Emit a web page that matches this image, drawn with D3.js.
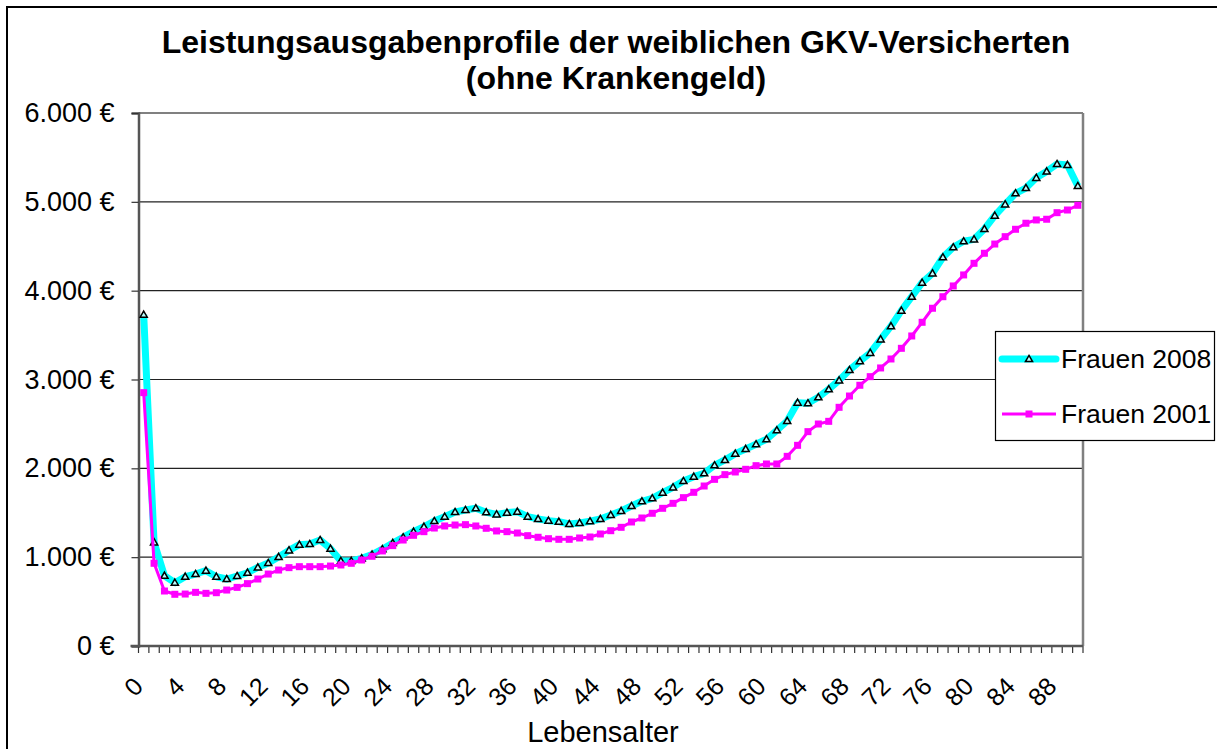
<!DOCTYPE html>
<html>
<head>
<meta charset="utf-8">
<script src="https://cdnjs.cloudflare.com/ajax/libs/d3/7.8.5/d3.min.js"></script>
<style>
  body { margin: 0; background: #fff; }
  text { font-family: "Liberation Sans", Arial, sans-serif; }
</style>
</head>
<body>
<div id="chart"></div>
<script>
// ages 0..90
var ages = d3.range(0, 91);

var frauen2008 = [3730, 1167, 791, 713, 780, 810, 848, 780, 754, 788,
  825, 885, 934, 1002, 1077, 1141, 1148, 1193, 1096, 957,
  957, 987, 1030, 1090, 1160, 1224, 1287, 1343, 1407, 1456,
  1508, 1531, 1550, 1505, 1482, 1501, 1512, 1456, 1430, 1411,
  1400, 1373, 1385, 1404, 1430, 1475, 1520, 1576, 1629, 1663,
  1726, 1786, 1857, 1906, 1944, 2034, 2094, 2165, 2218, 2271,
  2327, 2428, 2533, 2739, 2732, 2800, 2890, 2990, 3107, 3205,
  3300, 3452, 3600, 3775, 3932, 4090, 4195, 4376, 4488, 4556,
  4578, 4694, 4844, 4972, 5096, 5155, 5270, 5342, 5426, 5415,
  5178];

var frauen2001 = [2852, 931, 619, 582, 585, 604, 593, 600, 630, 660,
  702, 754, 810, 855, 882, 893, 893, 893, 900, 912,
  931, 968, 1010, 1070, 1130, 1193, 1246, 1287, 1328, 1351,
  1362, 1366, 1351, 1325, 1295, 1287, 1272, 1242, 1224, 1208,
  1201, 1201, 1216, 1227, 1261, 1298, 1336, 1396, 1441, 1494,
  1550, 1606, 1670, 1730, 1801, 1876, 1929, 1959, 1989, 2030,
  2049, 2049, 2135, 2259, 2413, 2499, 2529, 2687, 2814, 2935,
  3032, 3130, 3231, 3351, 3490, 3644, 3802, 3932, 4053, 4177,
  4308, 4421, 4525, 4608, 4691, 4759, 4796, 4804, 4878, 4908,
  4961];

var yTicks = [0, 1000, 2000, 3000, 4000, 5000, 6000];
var xLabelAges = d3.range(0, 89, 4);
var seriesNames = ["Frauen 2008", "Frauen 2001"];

var W = 1217, H = 749;
var plot = {left: 138.5, right: 1083, top: 113, bottom: 646};

var svg = d3.select("#chart")
  .append("svg")
  .attr("width", W)
  .attr("height", H);

svg.append("rect")
  .attr("width", W).attr("height", H)
  .attr("fill", "#fff");

// outer chart border
svg.append("rect")
  .attr("x", 7).attr("y", 7)
  .attr("width", W + 10).attr("height", H + 10)
  .attr("fill", "none")
  .attr("stroke", "#000")
  .attr("stroke-width", 2);

// german number format
var de = d3.formatLocale({decimal: ",", thousands: ".", grouping: [3], currency: ["", " €"]});
var fmt = de.format(",.0f");

var x = d3.scaleBand()
  .domain(ages)
  .range([plot.left, plot.right]);

var y = d3.scaleLinear()
  .domain([0, 6000])
  .range([plot.bottom, plot.top]);

function cx(a) { return x(a) + x.bandwidth() / 2; }

// gridlines
svg.append("g")
  .selectAll("line")
  .data(yTicks.slice(1))
  .join("line")
    .attr("x1", plot.left).attr("x2", plot.right)
    .attr("y1", d => y(d)).attr("y2", d => y(d))
    .attr("stroke", d => d == 6000 ? "#808080" : "#222")
    .attr("stroke-width", d => d == 6000 ? 2 : 1.2);

// right border of the plot area
svg.append("line")
  .attr("x1", plot.right).attr("x2", plot.right)
  .attr("y1", plot.top).attr("y2", plot.bottom)
  .attr("stroke", "#808080")
  .attr("stroke-width", 2.5);

// y axis
var yAxis = svg.append("g")
  .attr("transform", "translate(" + plot.left + ",0)")
  .call(d3.axisLeft(y).tickValues(yTicks).tickSize(7).tickPadding(17)
    .tickFormat(d => fmt(d) + " €"));
yAxis.select(".domain").attr("stroke", "#555").attr("stroke-width", 2.5);
yAxis.selectAll(".tick line").attr("stroke", "#333").attr("stroke-width", 1.2);
yAxis.selectAll("text")
  .attr("font-size", 27)
  .attr("fill", "#000")
  .style("font-family", "'Liberation Sans', Arial, sans-serif");

// x axis: ticks on category borders
var xg = svg.append("g");
xg.selectAll("line.tk")
  .data(d3.range(0, 92))
  .join("line")
    .attr("class", "tk")
    .attr("x1", d => plot.left + d * x.step())
    .attr("x2", d => plot.left + d * x.step())
    .attr("y1", plot.bottom).attr("y2", plot.bottom + 7)
    .attr("stroke", "#333")
    .attr("stroke-width", 1.2);
xg.append("line")
  .attr("x1", plot.left - 8).attr("x2", plot.right)
  .attr("y1", plot.bottom).attr("y2", plot.bottom)
  .attr("stroke", "#555")
  .attr("stroke-width", 2.5);

xg.selectAll("text")
  .data(xLabelAges)
  .join("text")
    .attr("text-anchor", "end")
    .attr("font-size", 25)
    .attr("transform", d => "translate(" + (cx(d) + 1) + "," + 688 + ") rotate(-45)")
    .text(d => d);

svg.append("text")
  .attr("x", 603).attr("y", 742)
  .attr("text-anchor", "middle")
  .attr("font-size", 29)
  .text("Lebensalter");

// title
svg.append("text")
  .attr("x", 616).attr("y", 53)
  .attr("text-anchor", "middle")
  .attr("font-size", 32)
  .attr("font-weight", "bold")
  .text("Leistungsausgabenprofile der weiblichen GKV-Versicherten");
svg.append("text")
  .attr("x", 616).attr("y", 89)
  .attr("text-anchor", "middle")
  .attr("font-size", 32)
  .attr("font-weight", "bold")
  .text("(ohne Krankengeld)");

var line = d3.line()
  .x((d, i) => cx(ages[i]))
  .y(d => y(d));

var tri = d3.symbol().type(d3.symbolTriangle).size(22);

// 2008 series (drawn first, like excel)
svg.append("path")
  .datum(frauen2008)
  .attr("fill", "none")
  .attr("stroke", "#00ffff")
  .attr("stroke-width", 7)
  .attr("stroke-linejoin", "round")
  .attr("d", line);
svg.append("g")
  .selectAll("path")
  .data(frauen2008)
  .join("path")
    .attr("transform", (d, i) => "translate(" + cx(ages[i]) + "," + (y(d) + 0.5) + ")")
    .attr("d", tri)
    .attr("fill", "#bff")
    .attr("stroke", "#000")
    .attr("stroke-width", 1.5);

// 2001 series on top
svg.append("path")
  .datum(frauen2001)
  .attr("fill", "none")
  .attr("stroke", "#ff00ff")
  .attr("stroke-width", 3)
  .attr("stroke-linejoin", "round")
  .attr("d", line);
svg.append("g")
  .selectAll("rect")
  .data(frauen2001)
  .join("rect")
    .attr("x", (d, i) => cx(ages[i]) - 3.5)
    .attr("y", d => y(d) - 3.5)
    .attr("width", 7).attr("height", 7)
    .attr("fill", "#ff00ff");

// legend
var lg = svg.append("g");
lg.append("rect")
  .attr("x", 995.5).attr("y", 331.5)
  .attr("width", 219).attr("height", 109)
  .attr("fill", "#fff")
  .attr("stroke", "#000")
  .attr("stroke-width", 1.2);

var legY = [359, 414];
lg.append("line")
  .attr("x1", 1002).attr("x2", 1056)
  .attr("y1", legY[0]).attr("y2", legY[0])
  .attr("stroke", "#00ffff").attr("stroke-width", 7)
  .attr("stroke-linecap", "round");
lg.append("path")
  .attr("transform", "translate(1029," + (legY[0] + 0.5) + ")")
  .attr("d", tri)
  .attr("fill", "#bff")
  .attr("stroke", "#000")
  .attr("stroke-width", 1.5);
lg.append("line")
  .attr("x1", 1002).attr("x2", 1056)
  .attr("y1", legY[1]).attr("y2", legY[1])
  .attr("stroke", "#ff00ff").attr("stroke-width", 3);
lg.append("rect")
  .attr("x", 1025.5).attr("y", legY[1] - 3.5)
  .attr("width", 7).attr("height", 7)
  .attr("fill", "#ff00ff");

lg.selectAll("text")
  .data(seriesNames)
  .join("text")
    .attr("x", 1061)
    .attr("y", (d, i) => legY[i] + 9)
    .attr("font-size", 26.5)
    .text(d => d);
</script>
</body>
</html>
